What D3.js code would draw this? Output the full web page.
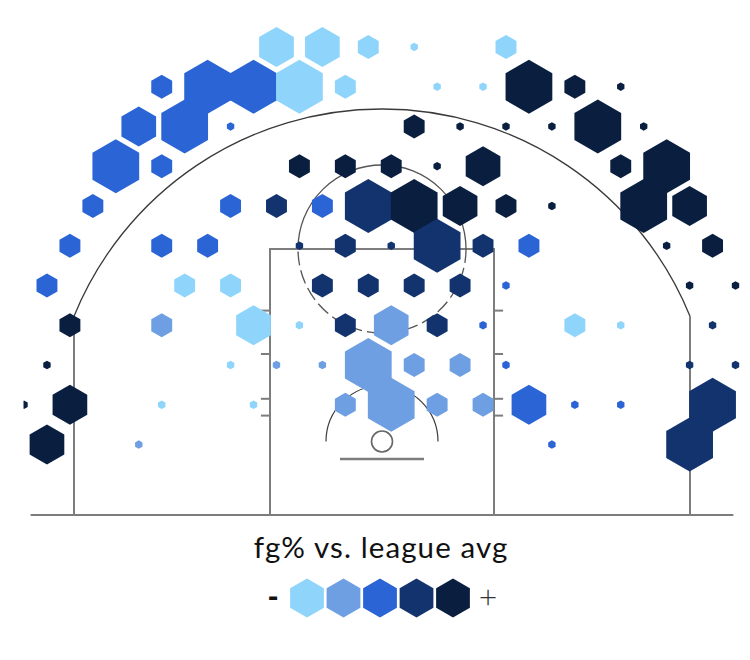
<!DOCTYPE html>
<html>
<head>
<meta charset="utf-8">
<script src="https://cdn.jsdelivr.net/npm/d3@7"></script>
<style>
  body { margin: 0; background: #fff; }
  svg { display: block; }
</style>
</head>
<body>
<svg id="chart" width="750" height="660"></svg>
<script>
// attempt buckets (bin size) and fg% level vs league avg (1 = well below, 5 = well above)
var BIG = 40, MED = 22, SML = 8, DOT = 1;

// hex bins: [column, row, attempts, level]
var hexBins = [
  [6,0,MED,1],[7,0,MED,1],[8,0,SML,1],[9,0,DOT,1],[11,0,SML,1],
  [3,1,SML,3],[4,1,BIG,3],[5,1,BIG,3],[6,1,BIG,1],[7,1,SML,1],[9,1,DOT,1],[10,1,DOT,1],[11,1,BIG,5],[12,1,SML,5],[13,1,DOT,5],
  [3,2,MED,3],[4,2,BIG,3],[5,2,DOT,3],[9,2,SML,5],[10,2,DOT,5],[11,2,DOT,5],[12,2,DOT,5],[13,2,BIG,5],[14,2,DOT,5],
  [2,3,BIG,3],[3,3,SML,3],[6,3,SML,5],[7,3,SML,5],[8,3,SML,5],[9,3,DOT,5],[10,3,MED,5],[13,3,SML,5],[14,3,BIG,5],
  [2,4,SML,3],[5,4,SML,3],[6,4,SML,4],[7,4,SML,3],[8,4,BIG,4],[9,4,BIG,5],[10,4,MED,5],[11,4,SML,5],[12,4,DOT,5],[14,4,BIG,5],[15,4,MED,5],
  [1,5,SML,3],[3,5,SML,3],[4,5,SML,3],[6,5,DOT,4],[7,5,SML,4],[8,5,DOT,4],[9,5,BIG,4],[10,5,SML,4],[11,5,SML,3],[14,5,DOT,5],[15,5,SML,5],
  [1,6,SML,3],[4,6,SML,1],[5,6,SML,1],[7,6,SML,4],[8,6,SML,4],[9,6,SML,4],[10,6,SML,4],[11,6,DOT,3],[15,6,DOT,5],[16,6,DOT,5],
  [1,7,SML,5],[3,7,SML,2],[5,7,MED,1],[6,7,DOT,1],[7,7,SML,4],[8,7,MED,2],[9,7,SML,4],[10,7,DOT,3],[12,7,SML,1],[13,7,DOT,1],[15,7,DOT,4],
  [1,8,DOT,5],[5,8,DOT,1],[6,8,DOT,2],[7,8,DOT,2],[8,8,BIG,2],[9,8,SML,2],[10,8,SML,2],[11,8,DOT,3],[15,8,DOT,4],[16,8,DOT,4],
  [0,9,DOT,5],[1,9,MED,5],[3,9,DOT,1],[5,9,DOT,1],[7,9,SML,2],[8,9,BIG,2],[9,9,SML,2],[10,9,SML,2],[11,9,MED,3],[12,9,DOT,3],[13,9,DOT,3],[15,9,BIG,4],
  [1,10,MED,5],[3,10,DOT,2],[12,10,DOT,3],[15,10,BIG,4]
];

var levels = [1, 2, 3, 4, 5];
var levelColors = ["#8fd5fb", "#6f9fe3", "#2a64d5", "#12336e", "#0a1f40"];
var legendTitle = "fg% vs. league avg";

var svg = d3.select("#chart");

// court in feet: x from basket centre, y from baseline
var x = d3.scaleLinear().domain([-25, 25]).range([32, 732]);
var y = d3.scaleLinear().domain([0, 47]).range([515, 515 - 47 * 14]);
var ft = 14; // px per foot

// hex grid (feet)
var hexR = 1.893,
    dxFt = hexR * Math.sqrt(3),
    dyFt = hexR * 1.5,
    gridX0 = -27.21,
    gridY0 = 33.43;

function hexCenter(c, r) {
  return [x(gridX0 + c * dxFt + (r % 2 ? dxFt / 2 : 0)), y(gridY0 - r * dyFt)];
}

function hexagon(radius) {
  var pts = d3.range(6).map(function(k) {
    var a = k * Math.PI / 3;
    return [Math.sin(a) * radius, -Math.cos(a) * radius];
  });
  return "M" + pts.join("L") + "Z";
}

var rScale = d3.scaleSqrt().domain([0, BIG]).range([0, 27]);
var color = d3.scaleOrdinal().domain(levels).range(levelColors);

// ---- court lines ----
var court = svg.append("g")
    .attr("fill", "none");

var light = "#7d7d7d", dark = "#3a3a3a";
var basket = [x(0), y(5.25)];

// baseline
court.append("line")
    .attr("x1", x(-25.1)).attr("x2", x(25.1))
    .attr("y1", y(0)).attr("y2", y(0))
    .attr("stroke", light).attr("stroke-width", 2);

// corner three lines
var arcR = 23.75;
var cornerTop = 5.25 + Math.sqrt(arcR * arcR - 22 * 22);
[-22, 22].forEach(function(cx) {
  court.append("line")
      .attr("x1", x(cx)).attr("x2", x(cx))
      .attr("y1", y(0)).attr("y2", y(cornerTop))
      .attr("stroke", light).attr("stroke-width", 2);
});

// three point arc
var arcAng = Math.asin(22 / arcR);
court.append("path")
    .attr("transform", "translate(" + basket + ")")
    .attr("d", d3.arc()({innerRadius: arcR * ft, outerRadius: arcR * ft, startAngle: -arcAng, endAngle: arcAng}))
    .attr("stroke", dark).attr("stroke-width", 1.3);

// paint
court.append("rect")
    .attr("x", x(-8)).attr("y", y(19))
    .attr("width", x(8) - x(-8)).attr("height", y(0) - y(19))
    .attr("stroke", light).attr("stroke-width", 2);

// lane hash marks
[7.1, 8.3, 11.5, 14.6].forEach(function(h) {
  court.append("line")
      .attr("x1", x(-8.65)).attr("x2", x(-8)).attr("y1", y(h)).attr("y2", y(h))
      .attr("stroke", light).attr("stroke-width", 2);
  court.append("line")
      .attr("x1", x(8)).attr("x2", x(8.65)).attr("y1", y(h)).attr("y2", y(h))
      .attr("stroke", light).attr("stroke-width", 2);
});

// free throw circle: solid top, dashed bottom
var ftc = court.append("g").attr("transform", "translate(" + x(0) + "," + y(19) + ")");
ftc.append("path")
    .attr("d", d3.arc()({innerRadius: 6 * ft, outerRadius: 6 * ft, startAngle: -Math.PI / 2, endAngle: Math.PI / 2}))
    .attr("stroke", "#555").attr("stroke-width", 1.3);
ftc.append("path")
    .attr("d", d3.arc()({innerRadius: 6 * ft, outerRadius: 6 * ft, startAngle: Math.PI / 2, endAngle: Math.PI * 1.5}))
    .attr("stroke", "#555").attr("stroke-width", 1.3)
    .attr("stroke-dasharray", "13,6");

// restricted area
court.append("path")
    .attr("transform", "translate(" + basket + ")")
    .attr("d", d3.arc()({innerRadius: 4 * ft, outerRadius: 4 * ft, startAngle: -Math.PI / 2, endAngle: Math.PI / 2}))
    .attr("stroke", dark).attr("stroke-width", 1.2);

// backboard and hoop
court.append("line")
    .attr("x1", x(-3)).attr("x2", x(3)).attr("y1", y(4)).attr("y2", y(4))
    .attr("stroke", light).attr("stroke-width", 2.5);
court.append("circle")
    .attr("cx", basket[0]).attr("cy", basket[1]).attr("r", 0.75 * ft)
    .attr("stroke", "#666").attr("stroke-width", 1.6);

// ---- hexes ----
svg.append("defs").append("clipPath").attr("id", "clip")
  .append("rect").attr("x", 23.5).attr("y", 0).attr("width", 730).attr("height", 516);

svg.append("g")
    .attr("clip-path", "url(#clip)")
  .selectAll("path")
  .data(hexBins)
  .join("path")
    .attr("transform", function(d) { return "translate(" + hexCenter(d[0], d[1]) + ")"; })
    .attr("d", function(d) { return hexagon(rScale(d[2])); })
    .attr("fill", function(d) { return color(d[3]); });

// ---- legend ----
var legend = svg.append("g").attr("font-family", "Lato, 'Open Sans', sans-serif");

legend.append("text")
    .attr("x", 381).attr("y", 558)
    .attr("text-anchor", "middle")
    .attr("font-size", 29.5)
    .attr("letter-spacing", 1.1)
    .attr("fill", "#111")
    .text(legendTitle);

var lx = d3.scalePoint().domain(levels).range([307, 453]);
legend.selectAll("path")
  .data(levels)
  .join("path")
    .attr("transform", function(d) { return "translate(" + lx(d) + ",598)"; })
    .attr("d", hexagon(19.5))
    .attr("fill", function(d) { return color(d); });

legend.append("text")
    .attr("x", 273).attr("y", 608)
    .attr("text-anchor", "middle")
    .attr("font-size", 30).attr("font-weight", 900)
    .attr("fill", "#111")
    .text("-");

legend.append("text")
    .attr("x", 488).attr("y", 608)
    .attr("text-anchor", "middle")
    .attr("font-size", 32).attr("font-weight", 300)
    .attr("fill", "#333")
    .text("+");
</script>
</body>
</html>
